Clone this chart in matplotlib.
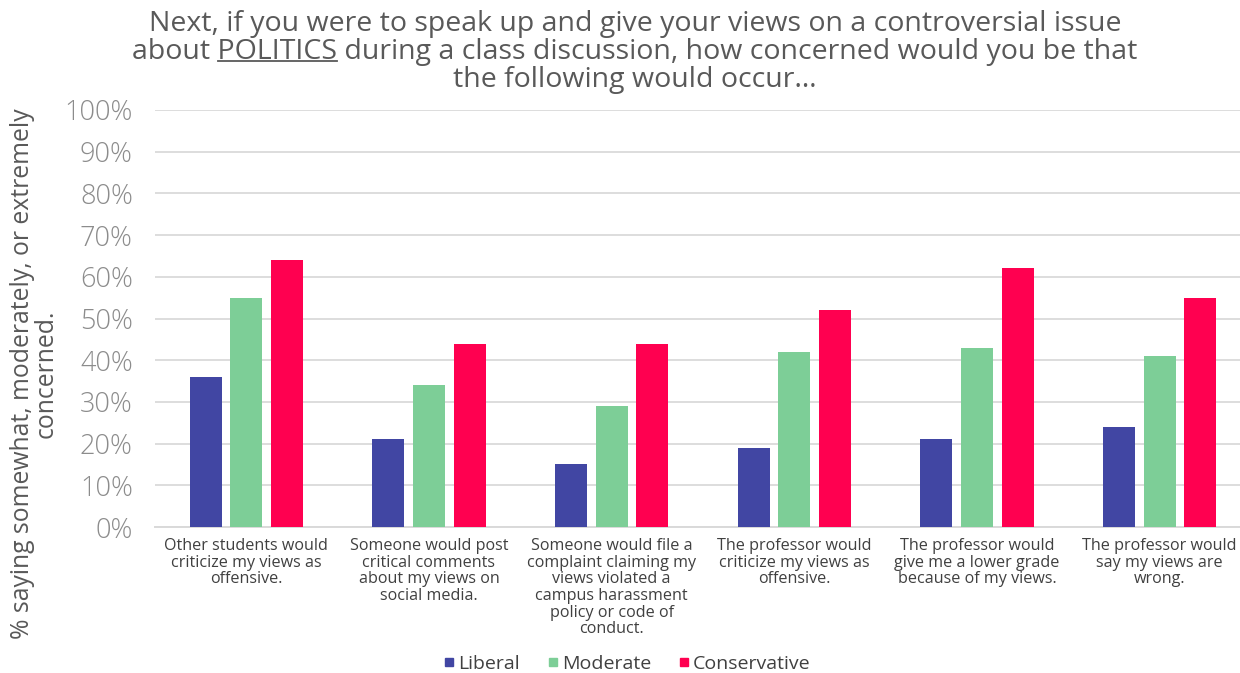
import matplotlib
matplotlib.use("Agg")
import matplotlib.pyplot as plt
import numpy as np
from matplotlib.lines import Line2D

plt.rcParams['font.family'] = ['Open Sans', 'DejaVu Sans']

categories = [
    "Other students would\ncriticize my views as\noffensive.",
    "Someone would post\ncritical comments\nabout my views on\nsocial media.",
    "Someone would file a\ncomplaint claiming my\nviews violated a\ncampus harassment\npolicy or code of\nconduct.",
    "The professor would\ncriticize my views as\noffensive.",
    "The professor would\ngive me a lower grade\nbecause of my views.",
    "The professor would\nsay my views are\nwrong.",
]
liberal = [36, 21, 15, 19, 21, 24]
moderate = [55, 34, 29, 42, 43, 41]
conservative = [64, 44, 44, 52, 62, 55]
series_names = ["Liberal", "Moderate", "Conservative"]
colors = ["#4146A3", "#7DCE97", "#FF0050"]
yticks = list(range(0, 101, 10))

fig = plt.figure(figsize=(12.4, 6.73), dpi=100)
ax = fig.add_axes([155 / 1240, 1 - 527 / 673, (1251 - 155) / 1240, (527 - 110) / 673])

x = np.arange(len(categories))
bw = 0.175
step = 0.222
for i, (vals, name, c) in enumerate(zip([liberal, moderate, conservative], series_names, colors)):
    ax.bar(x + (i - 1) * step, vals, width=bw, color=c, label=name, zorder=3)

ax.set_xlim(-0.5, len(categories) - 0.5)
ax.set_ylim(0, 100)
ax.set_yticks(yticks)
ax.set_yticklabels([f"{t}%" for t in yticks], fontsize=19.5, color="#8C8C8C",
                   fontweight="light")
ax.set_xticks(x)
ax.set_xticklabels(categories, fontsize=11.6, color="#404040", linespacing=1.05)
ax.tick_params(axis="both", length=0)
ax.tick_params(axis="x", pad=8)
ax.tick_params(axis="y", pad=16)
ax.grid(axis="y", color="#DDDDDD", lw=1.4, zorder=0)
for s in ["top", "right", "left"]:
    ax.spines[s].set_visible(False)
ax.spines["bottom"].set_color("#D9D9D9")
ax.spines["bottom"].set_linewidth(1.4)

fig.text(0.028, 1 - 374 / 673,
         "% saying somewhat, moderately, or extremely\nconcerned.",
         rotation=90, ha="center", va="center", fontsize=17.8, color="#595959",
         linespacing=0.92)

# Title, drawn line by line so that one word can be underlined
title_color = "#595959"
title_fs = 20.5
cx = 635 / 1240
fig.text(cx, 1 - 24 / 673, "Next, if you were to speak up and give your views on a controversial issue",
         ha="center", va="center", fontsize=title_fs, color=title_color)
line2 = fig.text(cx, 1 - 52 / 673, "about POLITICS during a class discussion, how concerned would you be that",
                 ha="center", va="center", fontsize=title_fs, color=title_color)
fig.text(cx, 1 - 80 / 673, "the following would occur…",
         ha="center", va="center", fontsize=title_fs, color=title_color)

renderer = fig.canvas.get_renderer()
full_bb = line2.get_window_extent(renderer)
probe1 = fig.text(0, 0, "about ", fontsize=title_fs)
probe2 = fig.text(0, 0, "about POLITICS", fontsize=title_fs)
w1 = probe1.get_window_extent(renderer).width
w2 = probe2.get_window_extent(renderer).width
probe1.remove()
probe2.remove()
x0 = (full_bb.x0 + w1) / fig.bbox.width
x1 = (full_bb.x0 + w2) / fig.bbox.width
uy = (full_bb.y0 + 5) / fig.bbox.height
fig.add_artist(Line2D([x0, x1], [uy, uy], transform=fig.transFigure, color=title_color, lw=1.3))

handles = [Line2D([0], [0], marker="s", linestyle="none", markersize=6,
                  markerfacecolor=c, markeredgecolor=c) for c in colors]
fig.legend(handles, series_names, loc="center", bbox_to_anchor=(626 / 1240, 1 - 664 / 673),
           ncol=3, frameon=False, fontsize=14, labelcolor="#404040",
           handletextpad=0.05, columnspacing=1.3, handlelength=0.8)

fig.savefig("out.png", dpi=100)
